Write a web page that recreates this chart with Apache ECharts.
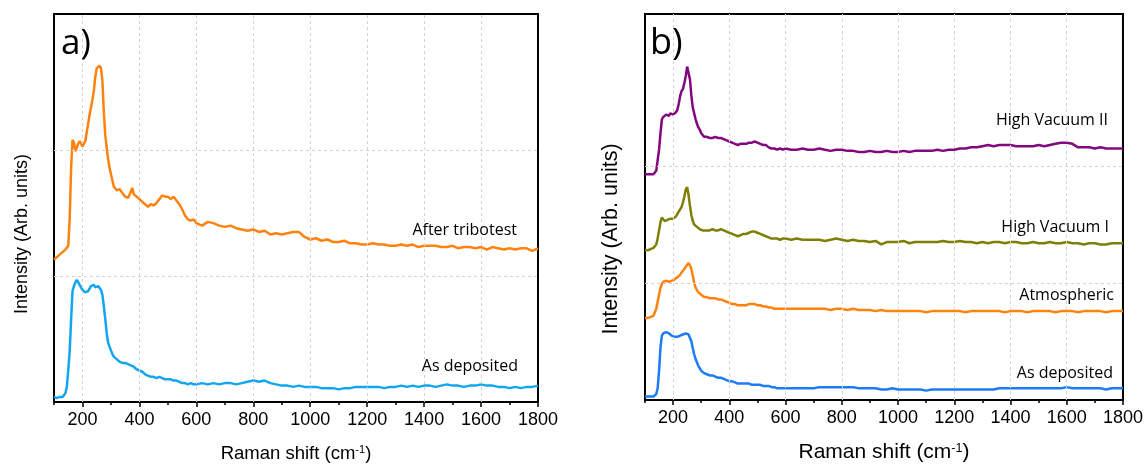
<!DOCTYPE html>
<html>
<head>
<meta charset="utf-8">
<script src="https://cdn.jsdelivr.net/npm/echarts@6/dist/echarts.min.js"></script>
<style>
html,body{margin:0;padding:0;background:#fff;}
#chart{width:1146px;height:468px;}
</style>
</head>
<body>
<div id="chart"></div>
<script>
// Raman shift (cm-1) sampling shared by all spectra
const ramanShift = [
  100,110,120,130,140,
  145,150,155,160,165,170,175,180,185,190,195,200,205,210,215,220,225,230,235,240,245,250,255,260,265,270,275,280,285,290,295,300,305,310,
  320,330,340,350,360,370,375,380,390,400,410,420,430,440,450,460,470,480,490,500,510,520,530,540,550,560,570,580,590,600,
  620,640,660,680,700,720,740,760,780,800,820,840,860,880,900,920,940,960,980,1000,
  1020,1040,1060,1080,1100,1120,1140,1160,1180,1200,1220,1240,1260,1280,1300,1320,1340,1360,1380,1400,
  1420,1440,1460,1480,1500,1520,1540,1560,1580,1600,1620,1640,1660,1680,1700,1720,1740,1760,1780,1800
];

// Panel a) – stacked intensities (arb. units)
const aAfterTribotest = [
  1.13,1.15,1.17,1.19,1.21,
  1.22,1.24,1.45,1.85,2.08,2.06,1.99,2.00,2.05,2.07,2.05,2.03,2.02,2.07,2.14,2.21,2.28,2.34,2.40,2.47,2.58,2.65,2.66,2.67,2.65,2.55,2.30,2.12,2.02,1.93,1.86,1.81,1.76,1.71,
  1.68,1.69,1.66,1.63,1.62,1.67,1.70,1.65,1.63,1.61,1.59,1.57,1.55,1.57,1.56,1.58,1.61,1.64,1.63,1.63,1.61,1.63,1.60,1.57,1.53,1.48,1.45,1.44,1.45,1.42,
  1.40,1.43,1.42,1.40,1.39,1.40,1.38,1.37,1.36,1.37,1.35,1.36,1.33,1.34,1.33,1.34,1.35,1.35,1.31,1.29,
  1.30,1.28,1.29,1.27,1.27,1.28,1.26,1.26,1.25,1.25,1.26,1.25,1.25,1.24,1.24,1.25,1.24,1.25,1.23,1.24,
  1.24,1.24,1.23,1.23,1.24,1.22,1.23,1.23,1.22,1.23,1.21,1.23,1.22,1.21,1.22,1.21,1.22,1.22,1.20,1.22
];
const aAsDeposited = [
  0.04,0.03,0.04,0.04,0.07,
  0.12,0.25,0.40,0.65,0.88,0.92,0.95,0.97,0.95,0.93,0.92,0.89,0.88,0.87,0.87,0.88,0.90,0.92,0.93,0.93,0.91,0.92,0.92,0.91,0.89,0.85,0.76,0.66,0.55,0.47,0.44,0.41,0.38,0.36,
  0.34,0.32,0.31,0.31,0.30,0.29,0.29,0.28,0.26,0.25,0.24,0.22,0.21,0.20,0.20,0.19,0.20,0.19,0.18,0.18,0.18,0.17,0.17,0.16,0.15,0.15,0.14,0.15,0.14,0.14,
  0.15,0.14,0.15,0.14,0.15,0.15,0.14,0.15,0.16,0.17,0.16,0.17,0.15,0.14,0.13,0.13,0.12,0.13,0.12,0.12,
  0.12,0.11,0.11,0.11,0.10,0.11,0.11,0.12,0.12,0.12,0.12,0.12,0.11,0.12,0.12,0.13,0.12,0.13,0.12,0.13,
  0.13,0.12,0.13,0.14,0.13,0.13,0.12,0.13,0.13,0.14,0.13,0.13,0.12,0.12,0.11,0.12,0.11,0.12,0.12,0.13
];

// Panel b) – stacked intensities (arb. units)
const bHighVacuumII = [
  1.93,1.93,1.93,1.93,1.96,
  2.05,2.14,2.28,2.40,2.42,2.43,2.44,2.44,2.43,2.45,2.44,2.44,2.45,2.46,2.48,2.53,2.60,2.64,2.66,2.71,2.77,2.85,2.84,2.74,2.60,2.50,2.45,2.40,2.36,2.33,2.31,2.28,2.27,2.25,
  2.25,2.24,2.24,2.25,2.24,2.24,2.24,2.23,2.22,2.21,2.20,2.19,2.18,2.19,2.19,2.19,2.20,2.20,2.21,2.20,2.19,2.18,2.18,2.16,2.15,2.15,2.14,2.15,2.14,2.15,
  2.14,2.14,2.15,2.14,2.14,2.15,2.14,2.13,2.14,2.14,2.13,2.13,2.12,2.12,2.13,2.12,2.12,2.13,2.12,2.12,
  2.13,2.12,2.13,2.13,2.13,2.13,2.14,2.13,2.14,2.14,2.15,2.15,2.16,2.16,2.17,2.18,2.17,2.18,2.18,2.18,
  2.17,2.17,2.17,2.17,2.18,2.17,2.18,2.19,2.20,2.20,2.19,2.16,2.16,2.16,2.15,2.16,2.15,2.15,2.15,2.15
];
const bHighVacuumI = [
  1.28,1.28,1.29,1.30,1.33,
  1.38,1.45,1.52,1.56,1.55,1.53,1.53,1.54,1.55,1.55,1.56,1.55,1.55,1.57,1.59,1.61,1.63,1.65,1.69,1.74,1.80,1.82,1.75,1.66,1.58,1.53,1.50,1.49,1.48,1.47,1.46,1.46,1.45,1.45,
  1.45,1.45,1.46,1.45,1.45,1.46,1.45,1.45,1.44,1.43,1.42,1.41,1.40,1.41,1.42,1.42,1.43,1.44,1.44,1.43,1.42,1.41,1.40,1.39,1.38,1.38,1.38,1.37,1.38,1.38,
  1.37,1.38,1.37,1.37,1.37,1.37,1.36,1.37,1.38,1.37,1.36,1.37,1.36,1.36,1.35,1.36,1.33,1.35,1.35,1.35,
  1.36,1.34,1.35,1.35,1.35,1.35,1.35,1.36,1.35,1.35,1.36,1.35,1.35,1.34,1.35,1.34,1.35,1.35,1.34,1.35,
  1.35,1.34,1.34,1.35,1.34,1.34,1.35,1.34,1.34,1.35,1.34,1.34,1.33,1.34,1.34,1.33,1.33,1.34,1.34,1.34
];
const bAtmospheric = [
  0.70,0.70,0.71,0.72,0.78,
  0.84,0.90,0.96,0.99,1.01,1.01,1.02,1.02,1.01,1.02,1.02,1.02,1.03,1.04,1.05,1.06,1.07,1.09,1.10,1.12,1.14,1.15,1.17,1.15,1.12,1.06,1.00,0.96,0.94,0.92,0.91,0.90,0.89,0.88,
  0.88,0.87,0.87,0.87,0.86,0.86,0.85,0.85,0.84,0.83,0.82,0.82,0.81,0.81,0.81,0.81,0.82,0.82,0.82,0.81,0.81,0.80,0.80,0.79,0.79,0.78,0.78,0.78,0.78,0.78,
  0.78,0.78,0.78,0.78,0.78,0.78,0.78,0.77,0.78,0.78,0.77,0.78,0.77,0.77,0.77,0.76,0.77,0.76,0.76,0.76,
  0.76,0.76,0.76,0.76,0.75,0.76,0.76,0.76,0.76,0.76,0.76,0.75,0.76,0.76,0.76,0.76,0.76,0.76,0.75,0.76,
  0.76,0.76,0.75,0.76,0.76,0.76,0.76,0.75,0.76,0.76,0.76,0.75,0.76,0.76,0.76,0.76,0.75,0.76,0.76,0.76
];
const bAsDeposited = [
  0.03,0.03,0.03,0.03,0.05,
  0.10,0.25,0.45,0.55,0.57,0.58,0.58,0.57,0.57,0.56,0.55,0.55,0.54,0.54,0.54,0.55,0.55,0.56,0.56,0.57,0.57,0.57,0.56,0.55,0.50,0.44,0.39,0.35,0.32,0.29,0.27,0.25,0.24,0.23,
  0.22,0.21,0.21,0.20,0.19,0.19,0.19,0.18,0.17,0.16,0.16,0.15,0.14,0.14,0.14,0.14,0.14,0.13,0.13,0.13,0.13,0.12,0.12,0.12,0.11,0.11,0.10,0.10,0.10,0.10,
  0.10,0.10,0.10,0.10,0.10,0.11,0.11,0.11,0.11,0.11,0.11,0.11,0.10,0.10,0.10,0.10,0.09,0.09,0.10,0.09,
  0.09,0.09,0.09,0.09,0.08,0.09,0.09,0.09,0.09,0.09,0.09,0.09,0.09,0.09,0.09,0.09,0.09,0.10,0.10,0.10,
  0.10,0.10,0.10,0.10,0.10,0.10,0.10,0.10,0.10,0.11,0.10,0.10,0.10,0.10,0.10,0.10,0.09,0.10,0.10,0.10
];

const xTickLabels = [200,400,600,800,1000,1200,1400,1600,1800];
const gridX = [200,400,600,800,1000,1200,1400,1600];
const gridY = [1,2];

function zip(ys){
  const n = Math.min(ramanShift.length, ys.length);
  if (ramanShift.length !== ys.length) console.error('length mismatch', ramanShift.length, ys.length);
  const out = [];
  for (let i=0;i<n;i++) out.push([ramanShift[i], ys[i]]);
  return out;
}

const sans = '"Liberation Sans", Arial, sans-serif';
const chart = echarts.init(document.getElementById('chart'), null, {renderer:'canvas'});
const gridLine = {color:'#d4d4d4', width:1, type:[3,3]};
function guides(){
  return {
    silent:true, symbol:'none', animation:false,
    label:{show:false}, lineStyle:gridLine, emphasis:{disabled:true},
    data: gridX.map(v=>({xAxis:v})).concat(gridY.map(v=>({yAxis:v})))
  };
}
function xAxisMain(gi){
  return {
    type:'value', gridIndex:gi, min:100, max:1800, interval:100,
    axisLine:{show:true, onZero:false, lineStyle:{color:'#000', width:2}},
    axisTick:{show:true, inside:false, length:3, lineStyle:{color:'#000', width:1.5}},
    axisLabel:{
      color:'#000', fontSize:18, fontFamily:sans, margin:9,
      formatter: v => (xTickLabels.indexOf(v) >= 0 ? String(v) : '')
    },
    splitLine:{show:false},
    name:'Raman shift (cm{sup|-1})', nameLocation:'middle',
    nameGap: 42,
    nameTextStyle:{
      color:'#000', fontSize: gi===0 ? 18.5 : 21, fontFamily:sans,
      rich:{sup:{fontSize: gi===0 ? 11 : 12.5, verticalAlign:'top', color:'#000', fontFamily:sans}}
    }
  };
}
function xAxisMajor(gi){
  return {
    type:'value', gridIndex:gi, min:100, max:1800, interval:100, position:'bottom',
    axisLine:{show:false},
    axisTick:{show:true, inside:false, length:5, customValues:xTickLabels, lineStyle:{color:'#000', width:1.5}},
    axisLabel:{show:false}, splitLine:{show:false}
  };
}
function yAxis(gi, max){
  return {
    type:'value', gridIndex:gi, min:0, max:max,
    axisLine:{show:true, lineStyle:{color:'#000', width:2}},
    axisTick:{show:false}, axisLabel:{show:false}, splitLine:{show:false}
  };
}
function line(name, data, color, xi, yi, withGuides){
  const s = {
    name, type:'line', xAxisIndex:xi, yAxisIndex:yi, data:zip(data),
    showSymbol:false, symbol:'none', smooth:false,
    lineStyle:{color, width:2.5}, itemStyle:{color}, z:3
  };
  if (withGuides) s.markLine = guides();
  return s;
}

const labelFont = '16px "Open Sans", sans-serif';
function tag(text, x, y){
  return {type:'text', x, y, z:10, style:{text, fill:'#000', font:labelFont, textAlign:'right', textVerticalAlign:'middle'}};
}
function yTitle(x, y, size){
  return {type:'text', x, y, rotation:Math.PI/2, z:10,
    style:{text:'Intensity (Arb. units)', fill:'#000', font:size+'px '+sans, textAlign:'center', textVerticalAlign:'middle'}};
}

chart.setOption({
  animation:false,
  backgroundColor:'#fff',
  grid:[
    {left:54, right:608, top:14, bottom:65, show:true, borderColor:'#000', borderWidth:2, backgroundColor:'transparent'},
    {left:645, right:21, top:14, bottom:66, show:true, borderColor:'#000', borderWidth:2, backgroundColor:'transparent'}
  ],
  xAxis:[xAxisMain(0), xAxisMain(1), xAxisMajor(0), xAxisMajor(1)],
  yAxis:[yAxis(0, 3.08), yAxis(1, 3.30)],
  series:[
    line('After tribotest', aAfterTribotest, '#FF820F', 0, 0, true),
    line('As deposited', aAsDeposited, '#12A6F2', 0, 0, false),
    line('High Vacuum II', bHighVacuumII, '#83087F', 1, 1, true),
    line('High Vacuum I', bHighVacuumI, '#7F7F05', 1, 1, false),
    line('Atmospheric', bAtmospheric, '#FF820F', 1, 1, false),
    line('As deposited', bAsDeposited, '#1C7CF5', 1, 1, false)
  ],
  graphic:[
    {type:'text', x:61, y:44, z:10, style:{text:'a)', fill:'#000', font:'35px "Open Sans", sans-serif', textAlign:'left', textVerticalAlign:'middle'}},
    {type:'text', x:650, y:44, z:10, style:{text:'b)', fill:'#000', font:'36px "Open Sans", sans-serif', textAlign:'left', textVerticalAlign:'middle'}},
    yTitle(22, 234, 18),
    yTitle(611, 239, 21.5),
    tag('After tribotest', 517, 230),
    tag('As deposited', 518, 366),
    tag('High Vacuum II', 1108, 120),
    tag('High Vacuum I', 1109, 227),
    tag('Atmospheric', 1114, 295),
    tag('As deposited', 1113, 373)
  ]
});
</script>
</body>
</html>
